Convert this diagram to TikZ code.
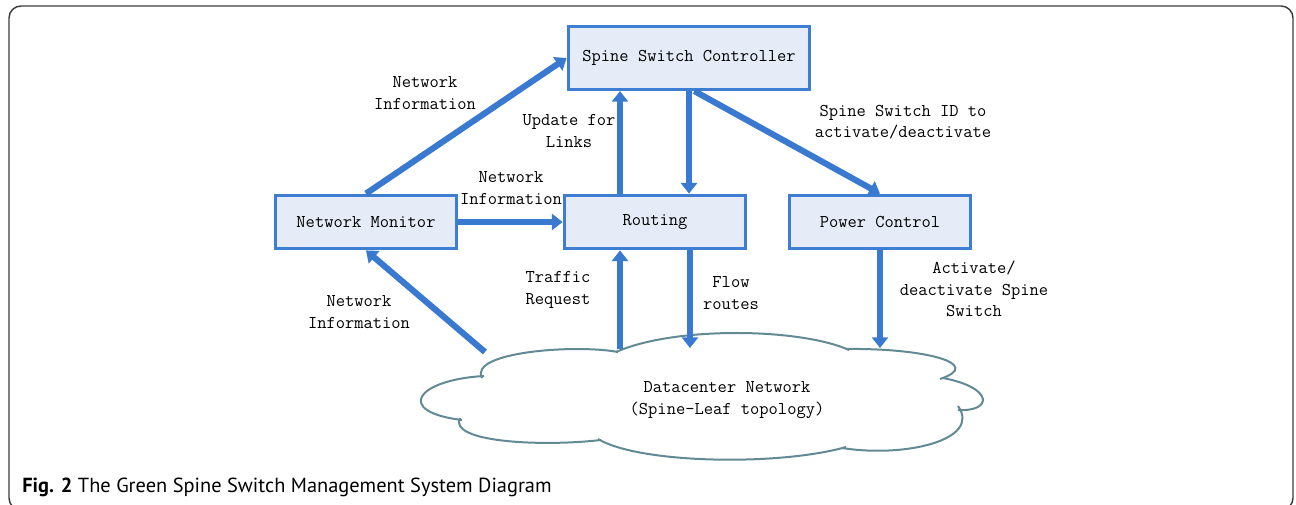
\documentclass[tikz,border=0pt]{standalone}
\usepackage{fontspec}
\newfontfamily\capfont{PT Sans}
\usepackage{tikz}
\usetikzlibrary{arrows.meta, positioning, calc}
\definecolor{arrblue}{RGB}{58,121,208}
\definecolor{boxline}{RGB}{62,126,210}
\definecolor{boxfill}{RGB}{230,236,247}
\definecolor{cloudline}{RGB}{98,138,148}
\definecolor{framegray}{RGB}{60,60,60}

\begin{document}
\begin{tikzpicture}[
  x=0.75pt, y=-0.75pt,
  font=\ttfamily\fontsize{13.5}{16}\selectfont,
  every node/.style={font=\ttfamily\fontsize{13.5}{16}\selectfont},
  block/.style={
    rectangle, draw=boxline, line width=2.6pt, fill=boxfill,
    minimum width=136pt, minimum height=40pt, align=center
  },
  lbl/.style={
    align=center, inner sep=0pt
  },
  arr/.style={
    -{Triangle[length=8pt, width=12pt]}, line width=4.6pt, draw=arrblue
  },
  cloudpath/.style={
    draw=cloudline, line width=1.5pt
  }
]

\useasboundingbox (0,0) rectangle (1296,505);

% Outer frame
\draw[framegray, line width=1.1pt, rounded corners=9pt] (9,6) rectangle (1293,510);

% Main boxes
\node[block, minimum width=181pt, minimum height=47pt] (ctrl) at (689,58)
{Spine Switch Controller};

\node[block] (mon) at (366,222)
{Network Monitor};

\node[block] (route) at (655,222)
{Routing};

\node[block] (pwr) at (880,222)
{Power Control};

% Datacenter cloud
\draw[cloudpath] (482,378) .. controls (468,352) and (575,344) .. (618,352);
\draw[cloudpath] (616,352) .. controls (675,326) and (800,328) .. (849,350);
\draw[cloudpath] (846,349) .. controls (925,348) and (985,364) .. (940,379);
\draw[cloudpath] (943,378) .. controls (995,388) and (992,412) .. (958,410);
\draw[cloudpath] (958,406) .. controls (982,440) and (905,458) .. (842,448);
\draw[cloudpath] (846,447) .. controls (780,466) and (640,464) .. (598,439);
\draw[cloudpath] (601,440) .. controls (540,447) and (448,442) .. (460,418);
\draw[cloudpath] (462,420) .. controls (395,412) and (415,380) .. (484,376);

\node[lbl] (dcn) at (727,400)
{Datacenter Network\\(Spine-Leaf topology)};

\coordinate (dcn-mon) at (485,352);
\coordinate (dcn-req) at (620,349);
\coordinate (dcn-flow) at (690,348);
\coordinate (dcn-pwr) at (880,348);

% Labels
\node[lbl] (l-info1) at (425,93) {Network\\Information};
\node[lbl] (l-upd) at (569,131) {Update for\\Links};
\node[lbl] (l-id) at (903,122) {Spine Switch ID to\\activate/deactivate};
\node[lbl] (l-info2) at (511,188) {Network\\Information};
\node[lbl] (l-req) at (558,290) {Traffic\\Request};
\node[lbl] (l-flow) at (731,293) {Flow\\routes};
\node[lbl] (l-act) at (974,289) {Activate/\\deactivate Spine\\Switch};
\node[lbl] (l-info3) at (359,312) {Network\\Information};

% Connectors
\draw[arr] (mon.north) -- (ctrl.west);
\draw[arr] (mon) -- (route);
\draw[arr] (dcn-req |- route.north) -- (dcn-req |- ctrl.south);
\draw[arr] (ctrl.south) -- (ctrl.south |- route.north);
\draw[arr] ([xshift=4pt]ctrl.south) -- (pwr.north);

\draw[arr] (dcn-mon) -- (mon.south);
\draw[arr] (dcn-req) -- (dcn-req |- route.south);
\draw[arr] (dcn-flow |- route.south) -- (dcn-flow);
\draw[arr] (pwr.south) -- (dcn-pwr);

% Caption
\node[anchor=base west, inner sep=0pt, font=\capfont\fontsize{15.3}{17}\selectfont] (cap) at (22,493)
{\textbf{Fig. 2} The Green Spine Switch Management System Diagram};

\end{tikzpicture}
\end{document}
